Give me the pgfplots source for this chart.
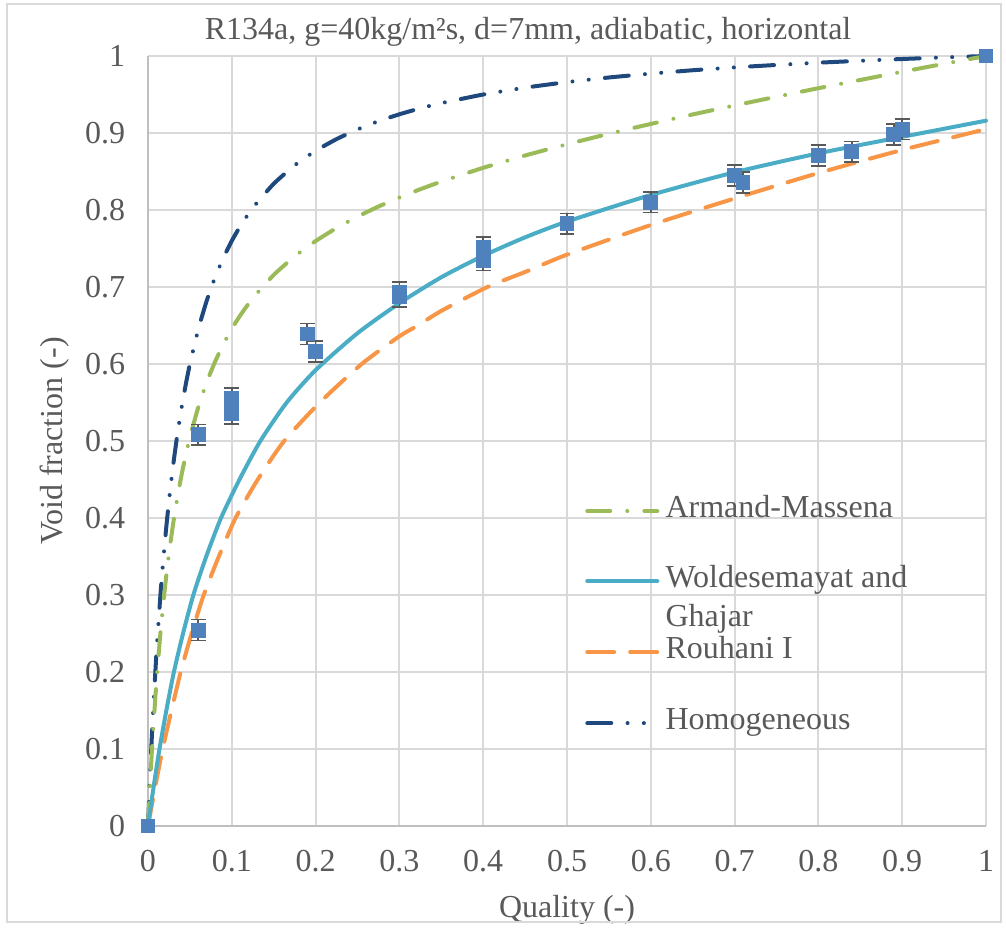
\documentclass[border=0pt]{standalone}
\usepackage{fontspec}
\setmainfont{Liberation Serif}
\usepackage{pgfplots}
\pgfplotsset{compat=1.18}
\usepackage{pgfplotstable}
\definecolor{txt}{HTML}{595959}
\definecolor{gridc}{HTML}{D9D9D9}
\definecolor{axc}{HTML}{BFBFBF}
\definecolor{armc}{HTML}{9BBB59}
\definecolor{wgc}{HTML}{4BACC6}
\definecolor{rouc}{HTML}{F79646}
\definecolor{homc}{HTML}{1F497D}
\definecolor{ptc}{HTML}{4F81BD}
\definecolor{errc}{HTML}{595959}

\pgfplotstableread{
x y
0 0
0.0025 0.0666
0.005 0.1252
0.01 0.2235
0.015 0.3026
0.02 0.3676
0.025 0.4221
0.03 0.4684
0.035 0.5082
0.04 0.5427
0.045 0.5731
0.05 0.5999
0.06 0.6452
0.07 0.6820
0.08 0.7124
0.09 0.7381
0.1 0.7600
0.11 0.7788
0.125 0.8028
0.15 0.8341
0.175 0.8580
0.2 0.8769
0.225 0.8921
0.25 0.9047
0.275 0.9153
0.3 0.9243
0.325 0.9321
0.35 0.9388
0.4 0.9500
0.45 0.9589
0.5 0.9661
0.55 0.9721
0.6 0.9771
0.65 0.9815
0.7 0.9852
0.75 0.9884
0.8 0.9913
0.85 0.9938
0.9 0.9961
0.95 0.9982
1 1
}\homog

\pgfplotstableread{
x y
0 0
0.0025 0.0555
0.005 0.1044
0.01 0.1865
0.015 0.2528
0.02 0.3074
0.025 0.3534
0.03 0.3925
0.035 0.4263
0.04 0.4557
0.045 0.4817
0.05 0.5047
0.06 0.5439
0.07 0.5761
0.08 0.6029
0.09 0.6259
0.1 0.6458
0.11 0.6630
0.125 0.6855
0.15 0.7157
0.175 0.7398
0.2 0.7597
0.225 0.7766
0.25 0.7914
0.275 0.8045
0.3 0.8162
0.325 0.8270
0.35 0.8369
0.4 0.8548
0.45 0.8708
0.5 0.8854
0.55 0.8990
0.6 0.9118
0.65 0.9241
0.7 0.9358
0.75 0.9471
0.8 0.9582
0.85 0.9689
0.9 0.9795
0.95 0.9899
1 1
}\armand

\pgfplotstableread{
x y
0 0
0.0066 0.05
0.0137 0.1
0.0219 0.15
0.0309 0.2
0.0418 0.25
0.0541 0.3
0.0695 0.35
0.0871 0.4
0.1092 0.45
0.1341 0.5
0.1655 0.55
0.2 0.592
0.25 0.640
0.3 0.679
0.35 0.7127
0.4 0.7405
0.45 0.7645
0.5 0.785
0.6 0.8195
0.7 0.849
0.8 0.8736
0.9 0.895
1 0.916
}\wolde

\pgfplotstableread{
x y
0 0
0.0085 0.05
0.0175 0.1
0.028 0.15
0.039 0.2
0.052 0.25
0.0665 0.3
0.0845 0.35
0.1045 0.4
0.131 0.45
0.1625 0.5
0.205 0.55
0.255 0.6
0.3 0.636
0.322 0.65
0.35 0.669
0.405 0.7
0.45 0.7195
0.5 0.742
0.6 0.7805
0.7 0.815
0.8 0.848
0.9 0.878
1 0.905
}\rouhani

\pgfplotstableread{
x y ey
0 0 0
0.06 0.2545 0.0135
0.06 0.508 0.0135
0.1 0.555 0.0135
0.1 0.5355 0.0135
0.19 0.639 0.0135
0.2 0.616 0.0135
0.3 0.693 0.0135
0.3 0.6875 0.0135
0.4 0.7515 0.0135
0.4 0.735 0.0135
0.5 0.782 0.0135
0.6 0.81 0.0135
0.7 0.845 0.0135
0.71 0.8355 0.0135
0.8 0.871 0.0135
0.84 0.8757 0.0135
0.89 0.898 0.0135
0.9 0.905 0.0135
1 1 0
}\meas

\tikzset{
  armstyle/.style={armc, line width=1.5pt, line cap=round, line join=round, dash pattern=on 8.6pt off 6.4pt on 0.01pt off 6.4pt},
  homstyle/.style={homc, line width=1.5pt, line cap=round, line join=round, dash pattern=on 9pt off 6.1pt on 0.01pt off 6.1pt on 0.01pt off 6.1pt},
  roustyle/.style={rouc, line width=1.5pt, line cap=round, line join=round, dash pattern=on 10.1pt off 6pt},
  wgstyle/.style={wgc, line width=1.5pt, line cap=round, line join=round},
  legtext/.style={anchor=mid west, text=txt, font=\fontsize{12}{14}\selectfont, inner sep=0pt},
}

\begin{document}
\begin{tikzpicture}
\begin{axis}[
  scale only axis,
  width=314.25pt, height=288.75pt,
  xmin=0, xmax=1, ymin=0, ymax=1,
  xtick={0,0.1,0.2,0.3,0.4,0.5,0.6,0.7,0.8,0.9,1},
  ytick={0,0.1,0.2,0.3,0.4,0.5,0.6,0.7,0.8,0.9,1},
  xticklabels={0,0.1,0.2,0.3,0.4,0.5,0.6,0.7,0.8,0.9,1},
  yticklabels={0,0.1,0.2,0.3,0.4,0.5,0.6,0.7,0.8,0.9,1},
  /pgf/number format/assume math mode=true,
  major tick length=0pt,
  grid=major,
  major grid style={draw=gridc, line width=0.75pt},
  axis x line*=bottom, axis y line*=left,
  axis line style={draw=axc, line width=0.75pt, -},
  every outer x axis line/.append style={-},
  every outer y axis line/.append style={-},
  tick label style={font=\fontsize{12}{14}\selectfont, text=txt},
  xticklabel style={yshift=-5.5pt},
  yticklabel style={xshift=-5pt},
  xlabel={Quality (-)},
  ylabel={Void fraction (-)},
  label style={font=\fontsize{12}{14}\selectfont, text=txt},
  xlabel style={at={(axis description cs:0.5,0)}, anchor=center, yshift=-31.5pt},
  ylabel style={at={([xshift=-34.9pt]axis description cs:0,0.5)}, anchor=center, rotate=0},
  title={R134a, g=40kg/m²s, d=7mm, adiabatic, horizontal},
  title style={at={(axis description cs:0.4535,1)}, anchor=center, yshift=3pt, font=\fontsize{12}{14}\selectfont, text=txt},
  clip=false,
]
\addplot[homstyle, smooth, tension=0.3] table {\homog};
\addplot[armstyle, smooth, tension=0.3] table {\armand};
\addplot[roustyle, smooth, tension=0.4] table {\rouhani};
\addplot[wgstyle, smooth, tension=0.4] table {\wolde};
\addplot[only marks, mark=square*, mark size=2.6pt, color=ptc,
  error bars/.cd, y dir=both, y explicit,
  error bar style={draw=errc, line width=0.6pt},
  error mark options={rotate=90, mark size=2.8pt, draw=errc, line width=0.6pt}]
  table[x=x, y=y, y error=ey] {\meas};

% legend
\draw[armstyle] (rel axis cs:0.5242,0.409) -- (rel axis cs:0.6078,0.409);
\node[legtext] at (rel axis cs:0.617,0.409) {Armand-Massena};
\draw[wgstyle] (rel axis cs:0.5242,0.318) -- (rel axis cs:0.6078,0.318);
\node[legtext] at (rel axis cs:0.617,0.318) {Woldesemayat and};
\node[legtext] at (rel axis cs:0.617,0.2675) {Ghajar};
\draw[roustyle] (rel axis cs:0.5242,0.2256) -- (rel axis cs:0.6078,0.2256);
\node[legtext] at (rel axis cs:0.617,0.2256) {Rouhani I};
\draw[homstyle] (rel axis cs:0.5242,0.1334) -- (rel axis cs:0.6078,0.1334);
\node[legtext] at (rel axis cs:0.617,0.1334) {Homogeneous};
\end{axis}
\pgfresetboundingbox
\path[use as bounding box] ([xshift=-55.5pt,yshift=-37.875pt]current axis.south west) rectangle ([xshift=7.5pt,yshift=21pt]current axis.north east);
\draw[gridc, line width=0.75pt] ([xshift=-53pt,yshift=-36pt]current axis.south west) rectangle ([xshift=5.5pt,yshift=19.5pt]current axis.north east);
\end{tikzpicture}
\end{document}
